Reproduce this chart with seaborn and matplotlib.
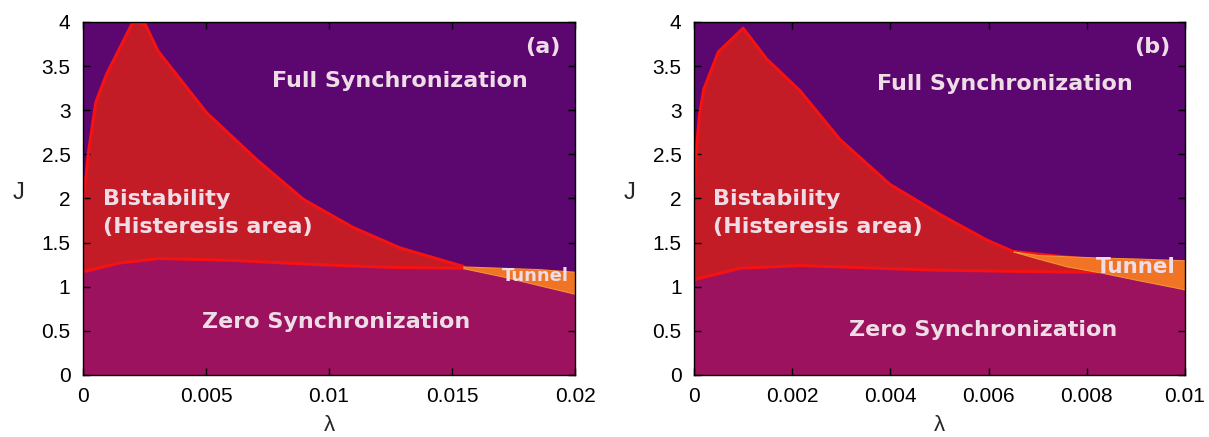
import numpy as np
import matplotlib
matplotlib.use("Agg")
import matplotlib.pyplot as plt
import seaborn as sns
import pandas as pd

# ---------------- data ----------------
# Panel (a)
a_up_lam = [0, 0.00012, 0.00022, 0.00052, 0.00096, 0.00203, 0.00252, 0.00305, 0.00503, 0.00706, 0.00896, 0.01099, 0.01289, 0.01546]
a_up_J = [1.99, 2.25, 2.52, 3.09, 3.41, 4.00, 3.98, 3.67, 2.97, 2.44, 1.99, 1.67, 1.44, 1.23]
a_lo_lam = [0, 0.0015, 0.0031, 0.0060, 0.0096, 0.0125, 0.01546]
a_lo_J = [1.17, 1.27, 1.32, 1.30, 1.25, 1.22, 1.21]
a_tun_lam = [0.01546, 0.0170, 0.0185, 0.0200]
a_tun_up = [1.23, 1.215, 1.20, 1.17]
a_tun_lo = [1.21, 1.12, 1.02, 0.92]

# Panel (b)
b_up_lam = [0, 0.000055, 0.00011, 0.0002, 0.000495, 0.0010, 0.00148, 0.00216, 0.00297, 0.00399, 0.00501, 0.00596, 0.0065, 0.0082]
b_up_J = [2.03, 2.59, 2.94, 3.24, 3.66, 3.93, 3.58, 3.22, 2.67, 2.16, 1.82, 1.53, 1.40, 1.30]
b_lo_lam = [0, 0.00094, 0.00216, 0.0048, 0.00705, 0.0082]
b_lo_J = [1.08, 1.21, 1.24, 1.19, 1.17, 1.165]
b_tun_lam = [0.0065, 0.0070, 0.0076, 0.0083, 0.0090, 0.0100]
b_tun_up = [1.40, 1.36, 1.345, 1.33, 1.32, 1.30]
b_tun_lo = [1.40, 1.32, 1.23, 1.16, 1.08, 0.97]

a_xticks = [0, 0.005, 0.01, 0.015, 0.02]
a_xlabels = ["0", "0.005", "0.01", "0.015", "0.02"]
b_xticks = [0, 0.002, 0.004, 0.006, 0.008, 0.01]
b_xlabels = ["0", "0.002", "0.004", "0.006", "0.008", "0.01"]
yticks = [0, 0.5, 1, 1.5, 2, 2.5, 3, 3.5, 4]
ylabels = ["0", "0.5", "1", "1.5", "2", "2.5", "3", "3.5", "4"]

# ---------------- style ----------------
sns.set_theme(style="ticks")
plt.rcParams["font.family"] = ["Liberation Sans", "DejaVu Sans"]

C_FULL = "#5c0670"
C_ZERO = "#9c125e"
C_BIST = "#c41c26"
C_LINE = "#f41212"
C_TUN = "#f07424"
C_TXT = "#eedde6"

fig = plt.figure(figsize=(12.09, 4.37), dpi=100)
H = 0.80778
B = 0.14188
ax_a = fig.add_axes([0.06865, B, 0.40695, H])
ax_b = fig.add_axes([0.57403, B, 0.40610, H])


def draw(ax, xmax, up_lam, up_J, lo_lam, lo_J, t_lam, t_up, t_lo, xticks, xlabels):
    ax.set_facecolor(C_FULL)
    grid = np.linspace(0, xmax, 1200)
    end_b = lo_lam[-1]
    lo_i = np.interp(grid, lo_lam, lo_J)
    tlo_i = np.interp(grid, t_lam, t_lo)
    zero_top = np.where(grid <= end_b, lo_i, tlo_i)
    ax.fill_between(grid, 0, zero_top, color=C_ZERO, lw=0, zorder=1)

    g_b = grid[grid <= end_b]
    ax.fill_between(g_b, np.interp(g_b, lo_lam, lo_J), np.interp(g_b, up_lam, up_J),
                    color=C_BIST, lw=0, zorder=2)
    sns.lineplot(x=up_lam, y=up_J, ax=ax, color=C_LINE, lw=2.2, sort=False,
                 estimator=None, zorder=3)
    sns.lineplot(x=lo_lam, y=lo_J, ax=ax, color=C_LINE, lw=2.2, sort=False,
                 estimator=None, zorder=3)

    g_t = grid[grid >= t_lam[0]]
    ax.fill_between(g_t, np.interp(g_t, t_lam, t_lo), np.interp(g_t, t_lam, t_up),
                    color=C_TUN, lw=0.8, edgecolor="#f5923a", zorder=4)

    ax.set_xlim(0, xmax)
    ax.set_ylim(0, 4)
    ax.set_xticks(xticks)
    ax.set_xticklabels(xlabels)
    ax.set_yticks(yticks)
    ax.set_yticklabels(ylabels)
    ax.tick_params(direction="in", top=True, right=True, length=5, width=1,
                   labelsize=15, colors="black", zorder=10)
    ax.tick_params(axis="y", pad=9)
    ax.tick_params(axis="x", pad=9)
    for s in ax.spines.values():
        s.set_visible(True)
        s.set_color("black")
        s.set_linewidth(1)
        s.set_zorder(10)
    ax.set_axisbelow(False)
    ax.set_xlabel("λ", fontsize=16)
    ax.set_ylabel("J", fontsize=17, rotation=0, va="center", ha="center")
    ax.yaxis.set_label_coords(-0.132, 0.516)
    ax.xaxis.set_label_coords(0.5, -0.142)
    ax.xaxis.label.set_va("center")


draw(ax_a, 0.02, a_up_lam, a_up_J, a_lo_lam, a_lo_J, a_tun_lam, a_tun_up, a_tun_lo, a_xticks, a_xlabels)
draw(ax_b, 0.01, b_up_lam, b_up_J, b_lo_lam, b_lo_J, b_tun_lam, b_tun_up, b_tun_lo, b_xticks, b_xlabels)

tk = dict(color=C_TXT, fontweight="bold", family="DejaVu Sans", zorder=12)

# Panel (a) labels
ax_a.text(0.0129, 3.33, "Full Synchronization", fontsize=16, ha="center", va="center", **tk)
ax_a.text(0.00081, 1.99, "Bistability", fontsize=16, ha="left", va="center", **tk)
ax_a.text(0.00081, 1.68, "(Histeresis area)", fontsize=16, ha="left", va="center", **tk)
ax_a.text(0.01028, 0.60, "Zero Synchronization", fontsize=16, ha="center", va="center", **tk)
ax_a.text(0.01837, 1.125, "Tunnel", fontsize=13, ha="center", va="center", **tk)
ax_a.text(0.97, 0.93, "(a)", fontsize=16, ha="right", va="center", transform=ax_a.transAxes, **tk)

# Panel (b) labels
ax_b.text(0.00634, 3.30, "Full Synchronization", fontsize=16, ha="center", va="center", **tk)
ax_b.text(0.00039, 1.99, "Bistability", fontsize=16, ha="left", va="center", **tk)
ax_b.text(0.00039, 1.68, "(Histeresis area)", fontsize=16, ha="left", va="center", **tk)
ax_b.text(0.00588, 0.51, "Zero Synchronization", fontsize=16, ha="center", va="center", **tk)
ax_b.text(0.0090, 1.22, "Tunnel", fontsize=15.5, ha="center", va="center", **tk)
ax_b.text(0.97, 0.93, "(b)", fontsize=16, ha="right", va="center", transform=ax_b.transAxes, **tk)

fig.savefig("out.png", dpi=100)
